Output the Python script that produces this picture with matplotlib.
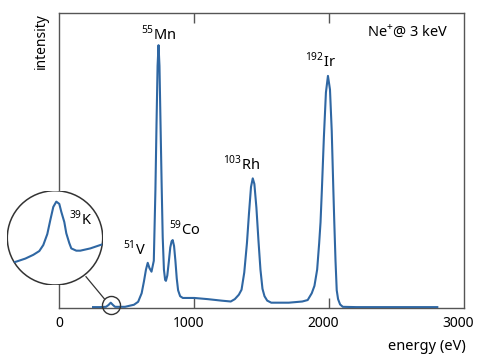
import matplotlib
matplotlib.use('Agg')
import matplotlib.pyplot as plt
from matplotlib.patches import Circle
from matplotlib.lines import Line2D

# spectrum (energy in eV, intensity in axis fraction)
energy = [250, 301, 346, 364, 381, 398, 413, 487, 524, 553, 584, 610, 627, 642, 655, 668, 683,
          700, 712, 720, 728, 735, 742, 750, 758, 766, 775, 784, 790, 800, 812, 822, 832, 840,
          850, 860, 870, 880, 895, 915, 940, 1000, 1100, 1200, 1270, 1300, 1330, 1350, 1370,
          1390, 1405, 1420, 1433, 1445, 1460, 1475, 1490, 1505, 1520, 1540, 1570, 1600, 1700,
          1800, 1840, 1870, 1890, 1910, 1925, 1935, 1945, 1960, 1975, 1990, 2005, 2018, 2030,
          2037, 2046, 2055, 2065, 2080, 2100, 2200, 2500, 2800]
intensity = [0.003, 0.003, 0.004, 0.010, 0.018, 0.010, 0.004, 0.004, 0.008, 0.011, 0.021, 0.05,
             0.09, 0.13, 0.153, 0.135, 0.123, 0.16, 0.40, 0.62, 0.82, 0.89, 0.82, 0.62, 0.42,
             0.24, 0.13, 0.095, 0.092, 0.11, 0.16, 0.205, 0.226, 0.230, 0.21, 0.16, 0.10, 0.06,
             0.040, 0.034, 0.034, 0.034, 0.030, 0.025, 0.022, 0.030, 0.045, 0.062, 0.12, 0.22,
             0.32, 0.41, 0.439, 0.42, 0.34, 0.23, 0.13, 0.065, 0.040, 0.025, 0.018, 0.018, 0.018,
             0.022, 0.027, 0.05, 0.075, 0.13, 0.22, 0.29, 0.40, 0.58, 0.73, 0.786, 0.74, 0.60,
             0.40, 0.29, 0.16, 0.06, 0.03, 0.012, 0.004, 0.003, 0.003, 0.003]

# magnified 39K region shown in the circle
k_energy = [330, 338, 344, 353, 361, 367, 371, 375, 378, 381, 384, 387, 389, 392, 394, 397,
            399, 404, 408, 418, 428, 436]
k_intensity = [0.0055, 0.0058, 0.0062, 0.0070, 0.0080, 0.0090, 0.0106, 0.0135, 0.0172, 0.0207,
               0.0221, 0.0215, 0.0194, 0.0167, 0.0137, 0.0111, 0.0097, 0.0091, 0.0091, 0.0097,
               0.0106, 0.0112]

peak_labels = ['$^{55}$Mn', '$^{192}$Ir', '$^{103}$Rh', '$^{59}$Co', '$^{51}$V']
label_pos = [(735, 0.925), (1935, 0.835), (1350, 0.485), (930, 0.265), (560, 0.200)]
tick_vals = [0, 1000, 2000, 3000]
tick_text = ['0', '1000', '2000', '3000']

plt.rcParams['font.family'] = ['Noto Sans', 'DejaVu Sans']
plt.rcParams['mathtext.fontset'] = 'custom'
plt.rcParams['mathtext.rm'] = 'Noto Sans'

W, H = 479, 364
fig = plt.figure(figsize=(W / 100, H / 100), dpi=100)
ax = fig.add_axes([59.3 / W, 1 - 308 / H, 405 / W, 295.3 / H])

blue = '#2f67a3'
ax.plot(energy, intensity, color=blue, lw=1.5, zorder=3)
ax.set_xlim(0, 3000)
ax.set_ylim(0, 1)

for s in ax.spines.values():
    s.set_color('#555555')
    s.set_linewidth(1.0)
ax.set_yticks([])
ax.set_xticks([1000, 2000])
ax.set_xticklabels([])
ax.tick_params(axis='x', direction='in', length=7, width=1, color='#555555', top=True)

# tick labels, sitting a little left of their ticks as in the reference
for v, s in zip(tick_vals, tick_text):
    dx = 0 if v == 0 else -4.5
    ax.annotate(s, xy=(v, 0), xycoords=('data', 'axes fraction'), xytext=(dx, -6),
                textcoords='offset points', ha='center', va='top', fontsize=10)

for lab, (x, y) in zip(peak_labels, label_pos):
    ax.text(x, y, lab, fontsize=10.5, ha='center', va='center')
ax.text(0.86, 0.935, 'Ne$^{+}$@ 3 keV', transform=ax.transAxes, fontsize=10.5,
        ha='center', va='center')

fig.text(41 / W, 1 - 12.7 / H, 'intensity', rotation=90, ha='center', va='top', fontsize=10)
fig.text(466 / W, 1 - 347 / H, 'energy (eV)', ha='right', va='center', fontsize=10.5)

# small circle marking the K peak
ax.plot([381], [0.011], 'o', ms=13, mfc='none', mec='#333333', mew=1.0, zorder=4, clip_on=False)
fig.add_artist(Line2D([86 / W, 104.5 / W], [1 - 276.7 / H, 1 - 299 / H], color='#333333', lw=0.9))

# inset circle
axi = fig.add_axes([7.3 / W, 1 - 285 / H, 95.4 / W, 94.3 / H])
axi.set_xlim(335, 430.4)
axi.set_ylim(0, 0.025)
axi.axis('off')
circ = Circle((0.5, 0.5), 0.5, transform=axi.transAxes, facecolor='white',
              edgecolor='#333333', lw=1.1, zorder=1)
axi.add_patch(circ)
ln, = axi.plot(k_energy, k_intensity, color=blue, lw=1.5, zorder=2)
ln.set_clip_path(circ)
axi.text((81 - 7.3) / 95.4, 1 - (219 - 190.7) / 94.3, '$^{39}$K', transform=axi.transAxes,
         fontsize=10.5, ha='center', va='center')

fig.savefig('out.png', dpi=100)
